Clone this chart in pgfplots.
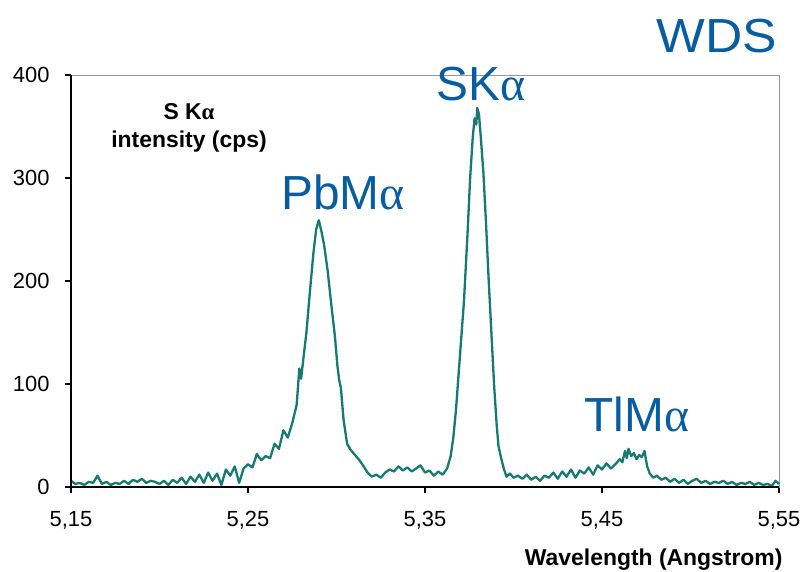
\documentclass[border=0pt]{standalone}
\usepackage{pgfplots}
\pgfplotsset{compat=1.18}
\usepackage{fontspec}
\setmainfont{Liberation Sans}
\newfontfamily\greekserif{Liberation Serif}
\definecolor{trace}{RGB}{22,122,112}
\definecolor{peakblue}{RGB}{8,92,160}
\definecolor{framegray}{RGB}{150,150,150}
\newcommand{\al}{{\greekserif α}}
\begin{document}
\begin{tikzpicture}[x=1bp,y=1bp]
\useasboundingbox (0,0) rectangle (805,572);
\begin{axis}[
  at={(71bp,85bp)}, anchor=south west,
  scale only axis, width=708bp, height=412bp,
  xmin=5.15, xmax=5.55, ymin=0, ymax=400,
  enlargelimits=false,
  axis line style={framegray, line width=0.8bp},
  xtick={5.15,5.25,5.35,5.45,5.55},
  xticklabels={{5,15},{5,25},{5,35},{5,45},{5,55}},
  ytick={0,100,200,300,400},
  tick align=outside,
  xtick pos=bottom, ytick pos=left,
  major tick length=6bp,
  tick style={black, line width=1.2bp},
  ticklabel style={font=\fontsize{22}{24}\selectfont},
  /pgf/number format/assume math mode=true,
  xticklabel style={yshift=-15bp},
  yticklabel style={xshift=-12bp},
  clip=false,
]
\addplot[trace, line width=2.3bp, line join=round] table {
x y
5.1500 6
5.1525 3
5.1550 4
5.1575 2
5.1600 5
5.1625 4
5.1650 11
5.1675 3
5.1700 5
5.1725 2
5.1750 4
5.1775 3
5.1800 6
5.1825 3
5.1850 7
5.1875 5
5.1900 8
5.1925 4
5.1950 6
5.1975 5
5.2000 3
5.2025 6
5.2050 2
5.2075 7
5.2100 4
5.2125 9
5.2150 3
5.2175 10
5.2200 5
5.2225 12
5.2250 4
5.2275 14
5.2300 6
5.2325 13
5.2350 2
5.2375 17
5.2400 11
5.2425 20
5.2450 4
5.2475 18
5.2500 22
5.2525 19
5.2550 32
5.2575 26
5.2600 30
5.2625 28
5.2650 42
5.2675 37
5.2700 55
5.2725 48
5.2750 62
5.2775 80
5.2790 115
5.2800 105
5.2815 128
5.2830 150
5.2850 190
5.2870 228
5.2885 250
5.2900 259
5.2915 248
5.2930 235
5.2950 210
5.2970 178
5.2990 148
5.3005 118
5.3015 104
5.3025 96
5.3040 65
5.3060 42
5.3080 36
5.3100 32
5.3125 27
5.3150 21
5.3175 14
5.3200 10
5.3225 12
5.3250 9
5.3275 14
5.3300 17
5.3325 15
5.3350 20
5.3375 16
5.3400 19
5.3425 15
5.3450 18
5.3475 21
5.3500 14
5.3525 16
5.3550 11
5.3575 15
5.3600 12
5.3625 18
5.3645 30
5.3660 48
5.3675 75
5.3690 110
5.3705 145
5.3720 180
5.3740 245
5.3755 300
5.3770 340
5.3780 358
5.3790 352
5.3795 368
5.3805 362
5.3815 340
5.3830 305
5.3845 255
5.3860 200
5.3875 150
5.3890 100
5.3905 60
5.3915 40
5.3930 28
5.3945 18
5.3960 10
5.3980 13
5.4000 9
5.4025 11
5.4050 8
5.4075 12
5.4100 7
5.4125 10
5.4150 6
5.4175 11
5.4200 9
5.4225 14
5.4250 8
5.4275 15
5.4300 10
5.4325 17
5.4350 9
5.4375 16
5.4400 13
5.4425 19
5.4450 12
5.4475 21
5.4500 17
5.4525 23
5.4550 18
5.4575 22
5.4600 27
5.4615 24
5.4630 35
5.4640 28
5.4650 37
5.4665 30
5.4680 33
5.4695 27
5.4710 31
5.4725 29
5.4740 35
5.4755 20
5.4770 13
5.4790 9
5.4810 11
5.4835 7
5.4860 9
5.4885 5
5.4910 8
5.4935 4
5.4960 7
5.4985 3
5.5010 6
5.5035 8
5.5060 4
5.5085 6
5.5110 3
5.5135 5
5.5160 4
5.5185 6
5.5210 3
5.5235 5
5.5260 2
5.5285 4
5.5310 3
5.5335 5
5.5360 2
5.5385 4
5.5410 2
5.5435 3
5.5460 1
5.5480 6
5.5500 3
};
% heavy left and bottom axis lines
\draw[black, line width=2bp] (rel axis cs:0,1) -- (rel axis cs:0,0) -- (rel axis cs:1,0);
\end{axis}
% axis titles
\begin{scope}[every node/.style={anchor=base, font=\bfseries\fontsize{23}{26}\selectfont}]
\node at (189,452) {S K\al};
\node at (189,424) {intensity (cps)};
\end{scope}
\node[anchor=base east, font=\bfseries\fontsize{23}{26}\selectfont] at (786,6) {Wavelength (Angstrom)};
% peak labels
\begin{scope}[every node/.style={text=peakblue, font=\fontsize{48}{50}\selectfont, anchor=base}]
\node at (343,362) {PbM\al};
\node at (481,471) {SK\al};
\node at (637,140) {TlM\al};
\node[xscale=1.08] at (717,519) {WDS};
\end{scope}
\end{tikzpicture}
\end{document}
